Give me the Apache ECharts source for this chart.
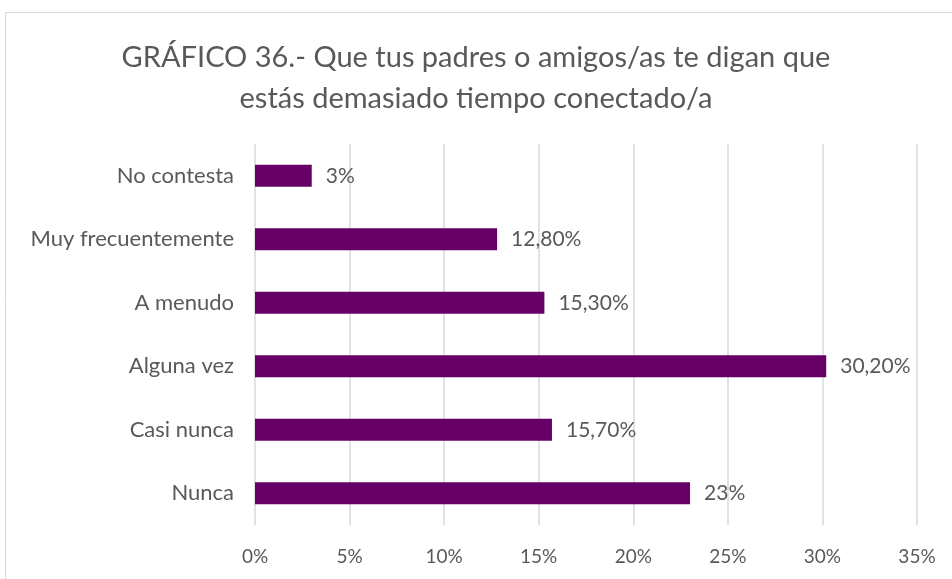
<!DOCTYPE html>
<html><head><meta charset="utf-8">
<script src="https://cdn.jsdelivr.net/npm/echarts@6/dist/echarts.min.js"></script>
<style>html,body{margin:0;padding:0;background:#fff}#c{width:952px;height:579px}</style>
</head><body><div id="c"></div>
<script>
const categories = ["Nunca", "Casi nunca", "Alguna vez", "A menudo", "Muy frecuentemente", "No contesta"];
const values = [23, 15.7, 30.2, 15.3, 12.8, 3];
const valueLabels = ["23%", "15,70%", "30,20%", "15,30%", "12,80%", "3%"];
const tickValues = [0, 5, 10, 15, 20, 25, 30, 35];
const titleText = "GRÁFICO 36.- Que tus padres o amigos/as te digan que\nestás demasiado tiempo conectado/a";

const FONT = "Lato, 'Open Sans', sans-serif";
const chart = echarts.init(document.getElementById('c'), null, {renderer: 'canvas'});
chart.setOption({
  animation: false,
  backgroundColor: '#fff',
  graphic: [{type: 'rect', shape: {x: 5.5, y: 12.5, width: 960, height: 600}, style: {fill: 'none', stroke: '#d9d9d9', lineWidth: 1}}],
  title: {
    text: titleText, left: 'center', top: 32,
    textStyle: {fontFamily: FONT, fontSize: 29, fontWeight: 'normal', color: '#595959', lineHeight: 41}
  },
  grid: {left: 255, right: 35, top: 144, bottom: 54},
  xAxis: {
    type: 'value', min: 0, max: 35, interval: 5,
    axisLine: {show: false}, axisTick: {show: false},
    splitLine: {lineStyle: {color: '#d9d9d9', width: 1.5}},
    axisLabel: {fontFamily: FONT, fontSize: 19, color: '#595959', margin: 22,
      formatter: v => tickValues.includes(v) ? v + '%' : ''}
  },
  yAxis: {
    type: 'category', data: categories,
    axisLine: {show: false}, axisTick: {show: false},
    axisLabel: {fontFamily: FONT, fontSize: 22, color: '#595959', margin: 21}
  },
  series: [{
    type: 'bar', data: values, barWidth: 22,
    itemStyle: {color: '#660066'},
    label: {show: true, position: 'right', distance: 14, fontFamily: FONT, fontSize: 21, color: '#595959',
      formatter: p => valueLabels[p.dataIndex]}
  }]
});
</script></body></html>
